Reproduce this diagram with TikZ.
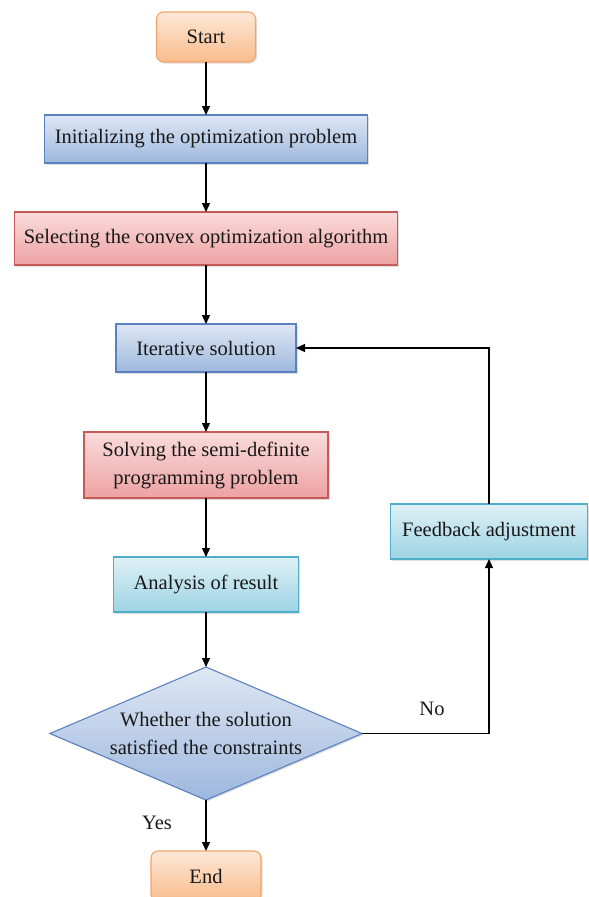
\documentclass[tikz,border=0pt]{standalone}
\usepackage{fontspec}
\setmainfont{Liberation Serif}
\usetikzlibrary{arrows.meta, positioning, shapes.geometric, shadows}

\definecolor{orangeline}{HTML}{F4A46A}
\definecolor{orangetop}{HTML}{FDE8D8}
\definecolor{orangebot}{HTML}{F9BC8C}
\definecolor{blueline}{HTML}{5B82C0}
\definecolor{bluetop}{HTML}{DEE7F4}
\definecolor{bluebot}{HTML}{9DB8DD}
\definecolor{redline}{HTML}{C55A57}
\definecolor{redtop}{HTML}{FADCDC}
\definecolor{redbot}{HTML}{EDA1A1}
\definecolor{cyanline}{HTML}{4FAFC8}
\definecolor{cyantop}{HTML}{DFF1F6}
\definecolor{cyanbot}{HTML}{9DD3E4}

\begin{document}
\begin{tikzpicture}[
x=1pt, y=1pt,
every node/.style={font=\fontsize{20.5}{28}\selectfont, text=black!90},
box/.style={
rectangle,
line width=1.1pt,
align=center,
inner sep=2pt,
outer sep=0pt,
drop shadow={opacity=0.25, shadow xshift=1.5pt, shadow yshift=-1.5pt}
},
terminal/.style={box, rounded corners=7pt, draw=orangeline, top color=orangetop, bottom color=orangebot},
bluebox/.style={box, draw=blueline, top color=bluetop, bottom color=bluebot},
redbox/.style={box, draw=redline, top color=redtop, bottom color=redbot},
cyanbox/.style={box, draw=cyanline, top color=cyantop, bottom color=cyanbot},
decision/.style={
diamond,
aspect=2.35,
inner sep=0pt,
outer sep=0pt,
align=center,
line width=1.1pt,
draw=blueline, top color=bluetop, bottom color=bluebot,
minimum width=312pt,
minimum height=133pt,
drop shadow={opacity=0.25, shadow xshift=1.5pt, shadow yshift=-1.5pt}
},
answer/.style={inner sep=0pt},
arrow/.style={-{Triangle[length=9pt,width=8pt]}, line width=1.3pt}
]

\useasboundingbox (0,0) rectangle (589,-897);

\node[terminal, minimum width=99pt, minimum height=50pt] (start) at (206,-37) {Start};
\node[bluebox, minimum width=323pt, minimum height=48pt] (init) [below=53pt of start] {Initializing the optimization problem};
\node[redbox, minimum width=383pt, minimum height=53pt] (select) [below=49pt of init] {Selecting the convex optimization algorithm};
\node[bluebox, minimum width=180pt, minimum height=48pt] (iter) [below=59pt of select] {Iterative solution};
\node[redbox, minimum width=244pt, minimum height=66pt] (solve) [below=60pt of iter] {Solving the semi-definite\\programming problem};
\node[cyanbox, minimum width=185pt, minimum height=55pt] (analysis) [below=59pt of solve] {Analysis of result};
\node[decision] (check) [below=55pt of analysis] {Whether the solution\\satisfied the constraints};
\node[terminal, minimum width=110pt, minimum height=50pt] (end) [below=51pt of check] {End};

\node[cyanbox, minimum width=197pt, minimum height=55pt] (feedback) [right=92pt of analysis, yshift=53pt] {Feedback adjustment};

\node[answer] (no) at ([xshift=70pt, yshift=25pt]check.east) {No};
\node[answer] (yes) at ([xshift=-49pt, yshift=-23pt]check.south) {Yes};

\draw[arrow] (start) -- (init);
\draw[arrow] (init) -- (select);
\draw[arrow] (select) -- (iter);
\draw[arrow] (iter) -- (solve);
\draw[arrow] (solve) -- (analysis);
\draw[arrow] (analysis) -- (check);
\draw[arrow] (check) -- (end);

\draw[arrow] (check.east) -| (feedback.south);
\draw[arrow] (feedback.north) |- (iter.east);

\end{tikzpicture}
\end{document}
